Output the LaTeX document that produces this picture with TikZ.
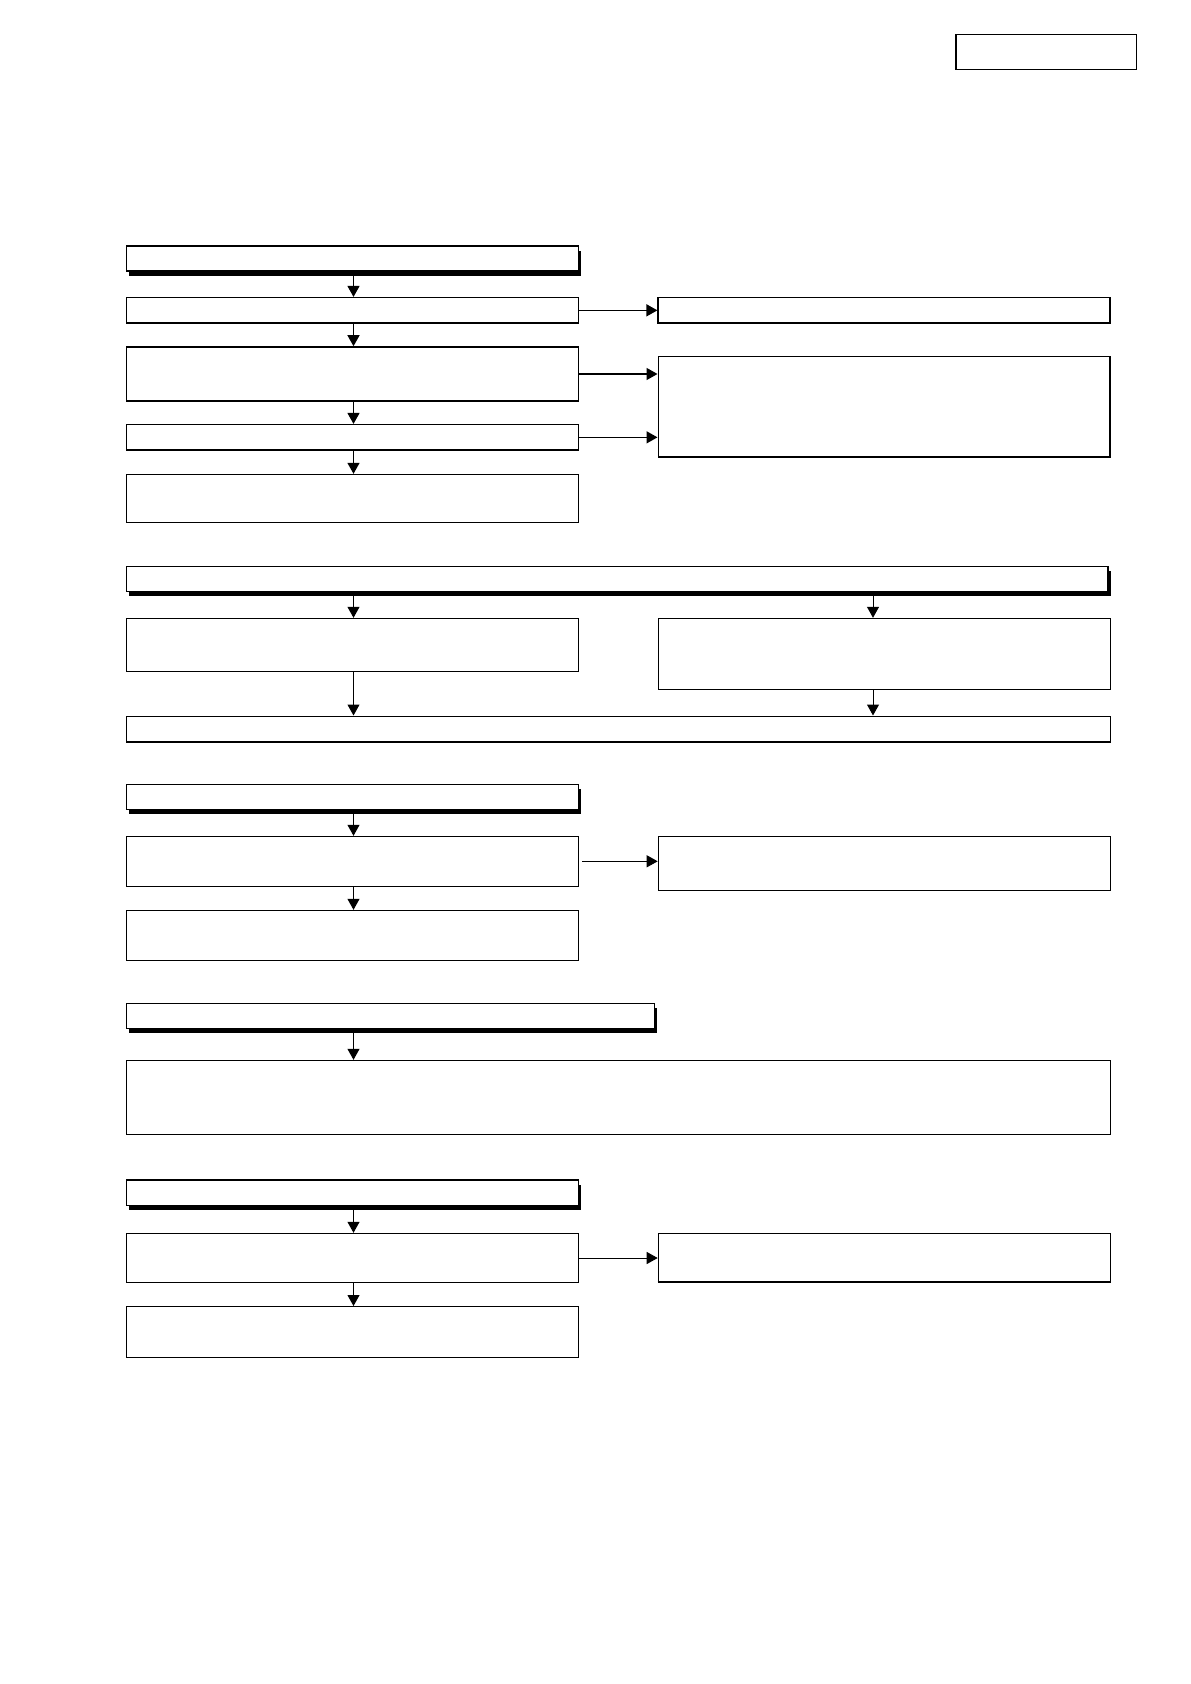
\documentclass[tikz,border=0pt]{standalone}
\usetikzlibrary{arrows.meta,fit,shadows}
\tikzset{
 box/.style={draw, fill=white, inner sep=0pt, line width=0.5pt},
 boxb/.style={box, line width=0.8pt},
 hdr/.style={box, line width=0.6pt, drop shadow={shadow xshift=1.3pt, shadow yshift=-2.3pt, fill=black, opacity=1}},
 arr/.style={-{Triangle[width=6pt,length=5.5pt]}, line width=0.5pt},
 arrb/.style={arr, line width=0.7pt},
}
\begin{document}
\begin{tikzpicture}[x=0.5pt,y=-0.5pt]
\useasboundingbox (0,0) rectangle (1190,1684);
\coordinate (kl) at (353.5,0);
\coordinate (kr) at (873,0);
% top right box
\node[box, line width=0.6pt, fit={(956,34.3) (1136.7,69.3)}] (TR) {};
% section 1
\node[hdr, fit={(126.5,246) (578.5,271)}] (H1) {};
\node[boxb, fit={(126.5,297.7) (578.5,323)}] (A1) {};
\node[boxb, fit={(126.5,347) (578.5,401)}] (A2) {};
\node[boxb, fit={(126.5,424.7) (578.5,450)}] (A3) {};
\node[box, fit={(126.5,474.3) (578.5,522)}] (A4) {};
\node[boxb, fit={(658.2,297.7) (1110,323)}] (R1) {};
\node[boxb, line width=0.7pt, fit={(658.2,356.3) (1110,457)}] (R2) {};
\draw[arrb] (H1.south -| kl) -- (A1.north -| kl);
\draw[arrb] (A1.south -| kl) -- (A2.north -| kl);
\draw[arrb] (A2.south -| kl) -- (A3.north -| kl);
\draw[arrb] (A3.south -| kl) -- (A4.north -| kl);
\draw[arrb] (A1.east) -- (A1.east -| R1.west);
\draw[arrb] (A2.east) -- (A2.east -| R2.west);
\draw[arrb] (A3.east) -- (A3.east -| R2.west);
% section 2
\node[hdr, fit={(126.5,566.7) (1108,591.7)}] (H2) {};
\node[box, fit={(126.5,618.3) (578.5,671.7)}] (B1) {};
\node[box, fit={(658.2,618.3) (1110,689.3)}] (B2) {};
\node[box, fit={(126.5,716) (1110,741.7)}] (B3) {};
\draw[line width=1pt] (B3.south west) -- (B3.south east);
\draw[arr] (H2.south -| kl) -- (B1.north -| kl);
\draw[arr] (H2.south -| kr) -- (B2.north -| kr);
\draw[arr] (B1.south -| kl) -- (B3.north -| kl);
\draw[arr] (B2.south -| kr) -- (B3.north -| kr);
% section 3
\node[hdr, fit={(126.5,784.3) (578.5,809.3)}] (H3) {};
\node[box, fit={(126.5,836.3) (578.5,886.3)}] (C1) {};
\node[box, fit={(658.2,836.3) (1110,890.7)}] (C2) {};
\node[box, fit={(126.5,910.3) (578.5,960.3)}] (C3) {};
\draw[arr] (H3.south -| kl) -- (C1.north -| kl);
\draw[arr] (C1.south -| kl) -- (C3.north -| kl);
\draw[arr] ([xshift=1.5pt]C1.east) -- (C1.east -| C2.west);
% section 4
\node[hdr, fit={(126.5,1003.3) (654.7,1028.3)}] (H4) {};
\node[box, fit={(126.5,1060.3) (1110,1134.3)}] (D1) {};
\draw[arr] (H4.south -| kl) -- (D1.north -| kl);
% section 5
\node[hdr, fit={(126.5,1180) (578.5,1205.3)}] (H5) {};
\node[box, fit={(126.5,1233.3) (578.5,1282.7)}] (E1) {};
\node[box, fit={(658.2,1233.3) (1110,1281)}] (E2) {};
\draw[line width=1pt] (E2.south west) -- (E2.south east);
\node[box, fit={(126.5,1306.5) (578.5,1357)}] (E3) {};
\draw[arr] (H5.south -| kl) -- (E1.north -| kl);
\draw[arr] (E1.south -| kl) -- (E3.north -| kl);
\draw[arr] (E1.east) -- (E1.east -| E2.west);
\end{tikzpicture}
\end{document}
